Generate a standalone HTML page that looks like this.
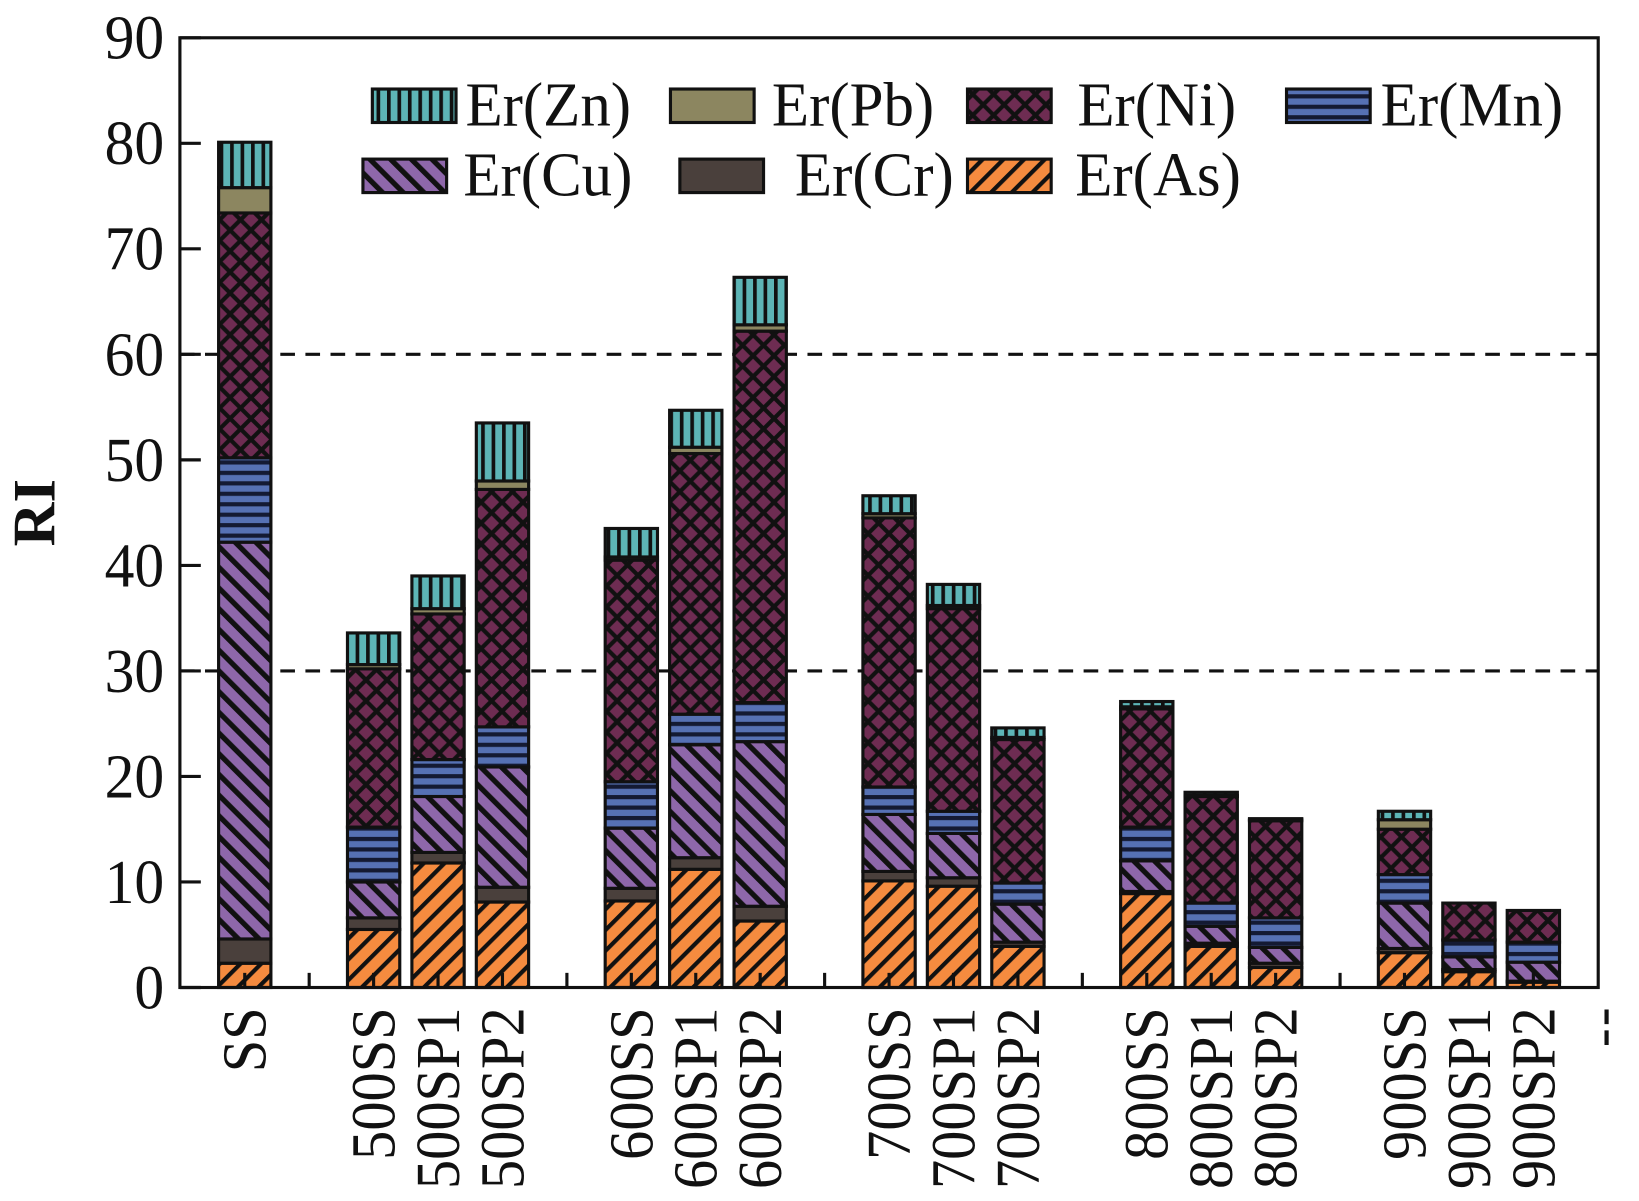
<!DOCTYPE html>
<html><head><meta charset="utf-8"><style>
html,body{margin:0;padding:0;background:#fff;}
svg{display:block;font-family:"Liberation Serif",serif;}
</style></head><body>
<svg id="chart" width="1639" height="1201" viewBox="0 0 1567 1148" xmlns="http://www.w3.org/2000/svg">
<defs>
<pattern id="pAs" patternUnits="userSpaceOnUse" width="14" height="14" patternTransform="rotate(45)"><rect width="14" height="14" fill="#F58B3F"/><rect x="0" y="0" width="4" height="14" fill="#111"/></pattern>
<pattern id="pCu" patternUnits="userSpaceOnUse" width="14" height="14" patternTransform="rotate(-45)"><rect width="14" height="14" fill="#8E67AA"/><rect x="0" y="0" width="5" height="14" fill="#111"/></pattern>
<pattern id="pMn" patternUnits="userSpaceOnUse" width="10" height="10"><rect width="10" height="10" fill="#5671B4"/><rect x="0" y="0" width="10" height="4" fill="#141a33"/></pattern>
<pattern id="pNi" patternUnits="userSpaceOnUse" width="20" height="20"><rect width="20" height="20" fill="#6E2C52"/><path d="M0 0L20 20M20 0L0 20" stroke="#111" stroke-width="4"/></pattern>
<pattern id="pZn" patternUnits="userSpaceOnUse" width="10" height="10"><rect width="10" height="10" fill="#5DB5B6"/><rect x="0" y="0" width="3.5" height="10" fill="#111"/></pattern>
</defs>
<g id="plot"></g>
</svg>
<script>
const categories=["SS","","500SS","500SP1","500SP2","","600SS","600SP1","600SP2","","700SS","700SP1","700SP2","","800SS","800SP1","800SP2","","900SS","900SP1","900SP2"];
const erAs=[2.3,null,5.5,11.8,8.1,null,8.2,11.2,6.3,null,10.1,9.6,3.9,null,8.9,3.9,1.9,null,3.3,1.5,0.5];
const erCr=[2.3,null,1.1,1.0,1.4,null,1.2,1.1,1.4,null,0.9,0.8,0.4,null,0.2,0.3,0.4,null,0.4,0.2,0.1];
const erCu=[37.6,null,3.4,5.3,11.4,null,5.7,10.7,15.6,null,5.4,4.2,3.6,null,2.9,1.6,1.5,null,4.3,1.2,1.8];
const erMn=[8.0,null,5.2,3.5,3.8,null,4.4,2.9,3.7,null,2.6,2.1,2.0,null,3.2,2.2,2.8,null,2.7,1.6,1.9];
const erNi=[23.2,null,15.0,13.8,22.5,null,21.0,24.7,35.2,null,25.5,19.2,13.6,null,11.2,10.1,9.2,null,4.3,3.5,3.0];
const erPb=[2.4,null,0.4,0.5,0.8,null,0.3,0.6,0.6,null,0.4,0.3,0.2,null,0.2,0.1,0.1,null,0.9,0,0];
const erZn=[4.3,null,3.0,3.1,5.5,null,2.7,3.5,4.5,null,1.7,2.0,0.9,null,0.5,0.3,0.1,null,0.8,0,0];
const yTicks=[0,10,20,30,40,50,60,70,80,90];
const refLines=[30,60];

const NS="http://www.w3.org/2000/svg";
const g=document.getElementById('plot');
const L=172,R=1528,Y0=944,Y90=36,YMAX=90;
const y=v=>Y0-(v/YMAX)*(Y0-Y90);
const x=i=>234+i*((1466-234)/20);
const BW=50;
function mk(t,a){const e=document.createElementNS(NS,t);for(const k in a)e.setAttribute(k,a[k]);g.appendChild(e);return e;}

const series=[
 {name:"Er(As)",data:erAs,fill:"url(#pAs)"},
 {name:"Er(Cr)",data:erCr,fill:"#4A403C"},
 {name:"Er(Cu)",data:erCu,fill:"url(#pCu)"},
 {name:"Er(Mn)",data:erMn,fill:"url(#pMn)"},
 {name:"Er(Ni)",data:erNi,fill:"url(#pNi)"},
 {name:"Er(Pb)",data:erPb,fill:"#8C8660"},
 {name:"Er(Zn)",data:erZn,fill:"url(#pZn)"}
];

refLines.forEach(v=>{
 const l=mk('line',{x1:L,x2:R,y1:y(v),y2:y(v),stroke:"#111","stroke-width":3,"stroke-dasharray":"14 10"});
 
 
});

categories.forEach((c,i)=>{
 if(!c)return;
 let base=0;
 series.forEach(s=>{
  const v=s.data[i];if(!v)return;
  const r=mk('rect',{x:x(i)-BW/2,y:y(base+v),width:BW,height:y(base)-y(base+v),fill:s.fill,stroke:"#111","stroke-width":3});
  
  
  base+=v;
 });
});

const fr=mk('rect',{x:L,y:Y90,width:R-L,height:Y0-Y90,fill:"none",stroke:"#111","stroke-width":3});



yTicks.forEach(t=>{
 const tk=mk('line',{x1:L,x2:L+20,y1:y(t),y2:y(t),stroke:"#111","stroke-width":3});
 
 
 const tx=mk('text',{x:0,y:0,"text-anchor":"end","font-size":60,fill:"#111",transform:`translate(157,${y(t)+20}) scale(0.95,1)`});
 tx.textContent=t;
 
 
});

categories.forEach((c,i)=>{
 const tk=mk('line',{x1:x(i),x2:x(i),y1:Y0,y2:Y0-14,stroke:"#111","stroke-width":3});
 
 
 if(!c)return;
 const tx=mk('text',{x:0,y:0,"text-anchor":"end","font-size":60,fill:"#111",transform:`translate(${x(i)+20},963) rotate(-90) scale(0.93,1)`});
 tx.textContent=c;
 
 
});
const dm=mk('line',{x1:1536,x2:1536,y1:965,y2:1000,stroke:"#111","stroke-width":4,"stroke-dasharray":"14 6"});



const yt=mk('text',{x:0,y:0,"text-anchor":"middle","font-size":58,"font-weight":"bold",fill:"#111",transform:"translate(52,490) rotate(-90)"});
yt.textContent="RI";



const legend=[
 {s:6,sx:356,tx:445,ty:120,sy:85},
 {s:5,sx:641,tx:738,ty:120,sy:85},
 {s:4,sx:925,tx:1030,ty:120,sy:85},
 {s:3,sx:1230,tx:1320,ty:120,sy:85},
 {s:2,sx:347,tx:443,ty:187,sy:152},
 {s:1,sx:650,tx:760,ty:187,sy:152},
 {s:0,sx:925,tx:1028,ty:187,sy:152}
];
legend.forEach(e=>{
 const s=series[e.s];
 const key=s.name.replace(/[()]/g,'').toLowerCase();
 const r=mk('rect',{x:e.sx,y:e.sy,width:80,height:32,fill:s.fill,stroke:"#111","stroke-width":3});
 
 
 const t=mk('text',{x:0,y:0,"font-size":60,fill:"#111",transform:`translate(${e.tx},${e.ty}) scale(0.97,1)`});
 t.textContent=s.name;
 
 
});
</script>
</body></html>
